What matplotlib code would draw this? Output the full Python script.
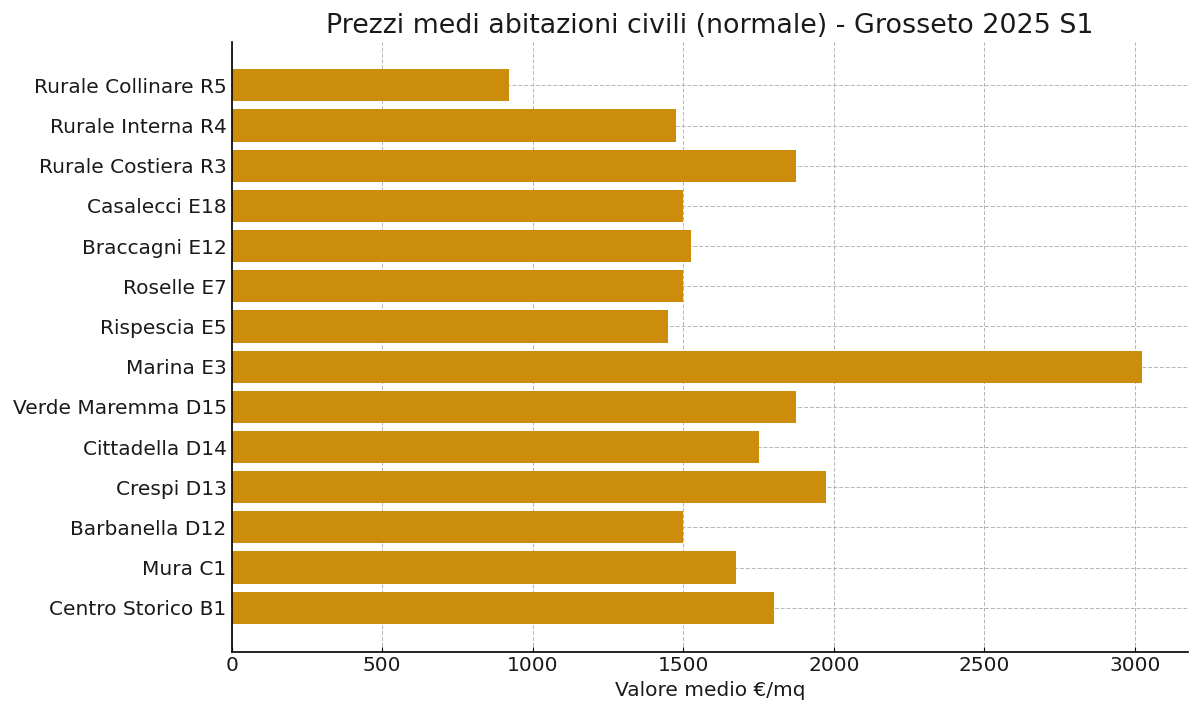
import matplotlib.pyplot as plt

zones = ['Centro Storico B1', 'Mura C1', 'Barbanella D12', 'Crespi D13', 'Cittadella D14',
         'Verde Maremma D15', 'Marina E3', 'Rispescia E5', 'Roselle E7', 'Braccagni E12',
         'Casalecci E18', 'Rurale Costiera R3', 'Rurale Interna R4', 'Rurale Collinare R5']
prices = [1800, 1675, 1500, 1975, 1750, 1875, 3025, 1450, 1500, 1525, 1500, 1875, 1475, 920]

fig, ax = plt.subplots(figsize=(12, 7.16), dpi=100)
ax.barh(zones, prices, height=0.8, color='#CC8C0C')

ax.set_title('Prezzi medi abitazioni civili (normale) - Grosseto 2025 S1', fontsize=19.4, color='#1a1a1a')
ax.set_xlabel('Valore medio €/mq', fontsize=14.5, color='#1a1a1a')
ax.tick_params(axis='both', direction='in', labelsize=14.5, labelcolor='#1a1a1a')
ax.spines['top'].set_visible(False)
ax.spines['right'].set_visible(False)
for s in ['left', 'bottom']:
    ax.spines[s].set_linewidth(1.2)
ax.set_axisbelow(True)
ax.grid(True, linestyle=(0, (4, 2)), color='#b5b5b5', linewidth=0.7)

plt.subplots_adjust(left=0.193, right=0.99, top=0.942, bottom=0.09)
plt.savefig('out.png', dpi=100)
plt.close('all')
